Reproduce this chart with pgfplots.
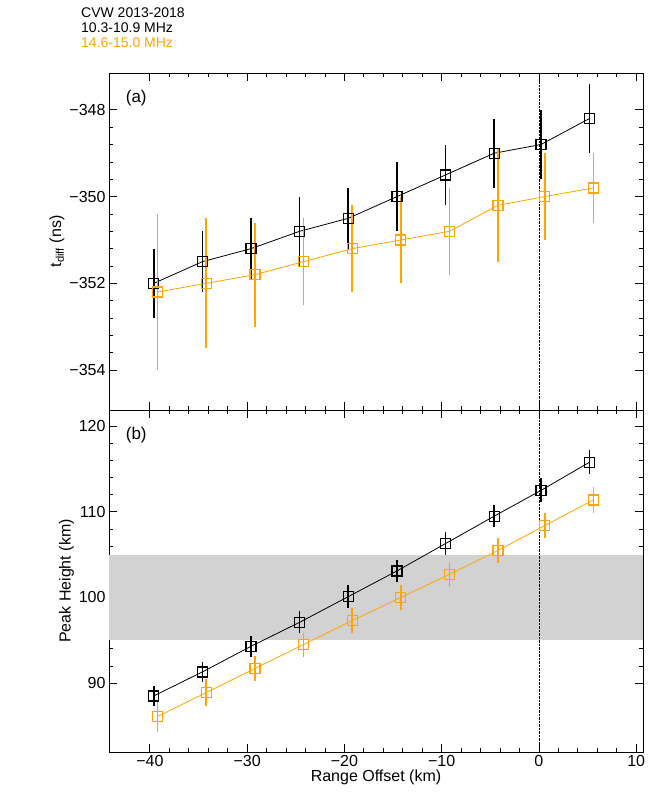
\documentclass[border=0pt]{standalone}
\usepackage{pgfplots}
\pgfplotsset{compat=1.18}
\usepackage{fontspec}
\setmainfont{Liberation Sans}
\definecolor{org}{RGB}{255,165,0}
\begin{document}
\begin{tikzpicture}[x=1pt,y=1pt]
\pgfplotsset{every axis/.style={width=534pt,scale only axis,xmin=-44.2,xmax=10.7,
 tick align=inside, minor x tick num=4, minor y tick num=4,
 xtick={-40,-30,...,10}, major tick length=8pt, minor tick length=4pt,
 label style={font=\fontsize{16}{18}\selectfont},
 tick label style={font=\fontsize{16}{18}\selectfont},
 /pgf/number format/assume math mode=true,
 axis line style={line width=0.8pt},
 every tick/.style={black,line width=0.8pt},
 clip=false}}
\path[use as bounding box] (-109,-60) rectangle (544,752);
\begin{axis}[name=bot,at={(0,0)},anchor=south west,height=342pt,ymin=81.95,ymax=121.9,
 ytick={90,100,110,120}, xticklabels={−40,−30,−20,−10,0,10}, ylabel={Peak Height (km)},
 xlabel={Range Offset (km)},
 xlabel style={yshift=4pt}, ylabel style={yshift=-2pt}]
\fill[gray!35] (axis cs:-44.2,95) rectangle (axis cs:10.7,105);
\draw[densely dotted] (axis cs:0,81.95) -- (axis cs:0,121.9);
\addplot[black,thick,mark=square,mark size=5pt,mark options={line width=1.3pt},error bars/.cd,y dir=both,y explicit,error bar style={line width=1.6pt},error mark=none] table[y error=e] {
x y e
-39.6 88.5 1.2
-34.6 91.3 1.2
-29.6 94.3 1.2
-24.6 97.1 1.3
-19.6 100.1 1.3
-14.6 103.1 1.3
-9.6 106.3 1.3
-4.6 109.5 1.3
0.2 112.5 1.4
5.2 115.8 1.4
};
\addplot[org,thick,mark=square,mark size=5pt,mark options={line width=1.3pt},error bars/.cd,y dir=both,y explicit,error bar style={line width=1.6pt},error mark=none] table[y error=e] {
x y e
-39.2 86.1 1.8
-34.2 88.9 1.6
-29.2 91.7 1.5
-24.2 94.5 1.4
-19.2 97.3 1.5
-14.2 100.0 1.5
-9.2 102.7 1.5
-4.2 105.5 1.5
0.6 108.4 1.5
5.6 111.4 1.5
};
\node[anchor=north west,font=\fontsize{17}{19}\selectfont] at (rel axis cs:0.025,0.96) {(b)};
\end{axis}
\begin{axis}[name=top,at={(bot.north west)},anchor=south west,height=337pt,ymin=-354.92,ymax=-347.15,
 ytick={-354,-352,-350,-348}, yticklabels={−354,−352,−350,−348}, xticklabels={}, ylabel={t$_{\mathrm{diff}}$ (ns)},
 ylabel style={yshift=-2pt}]
\draw[densely dotted] (axis cs:0,-354.92) -- (axis cs:0,-347.15);
\addplot[black,thick,mark=square,mark size=5pt,mark options={line width=1.3pt},error bars/.cd,y dir=both,y explicit,error bar style={line width=1.6pt},error mark=none] table[y error=e] {
x y e
-39.6 -352.0 0.8
-34.6 -351.5 0.7
-29.6 -351.2 0.7
-24.6 -350.8 0.8
-19.6 -350.5 0.7
-14.6 -350.0 0.8
-9.6 -349.5 0.7
-4.6 -349.0 0.8
0.2 -348.8 0.8
5.2 -348.2 0.8
};
\addplot[org,thick,mark=square,mark size=5pt,mark options={line width=1.3pt},error bars/.cd,y dir=both,y explicit,error bar style={line width=1.6pt},error mark=none] table[y error=e] {
x y e
-39.2 -352.2 1.8
-34.2 -352.0 1.5
-29.2 -351.8 1.2
-24.2 -351.5 1.0
-19.2 -351.2 1.0
-14.2 -351.0 1.0
-9.2 -350.8 1.0
-4.2 -350.2 1.3
0.6 -350.0 1.0
5.6 -349.8 0.8
};
\node[anchor=north west,font=\fontsize{17}{19}\selectfont] at (rel axis cs:0.025,0.96) {(a)};
\end{axis}
\node[anchor=north west,align=left,font=\fontsize{14}{15}\selectfont,inner sep=0] at (-28,744) {CVW 2013-2018\\10.3-10.9 MHz\\\textcolor{org}{14.6-15.0 MHz}};
\end{tikzpicture}
\end{document}
